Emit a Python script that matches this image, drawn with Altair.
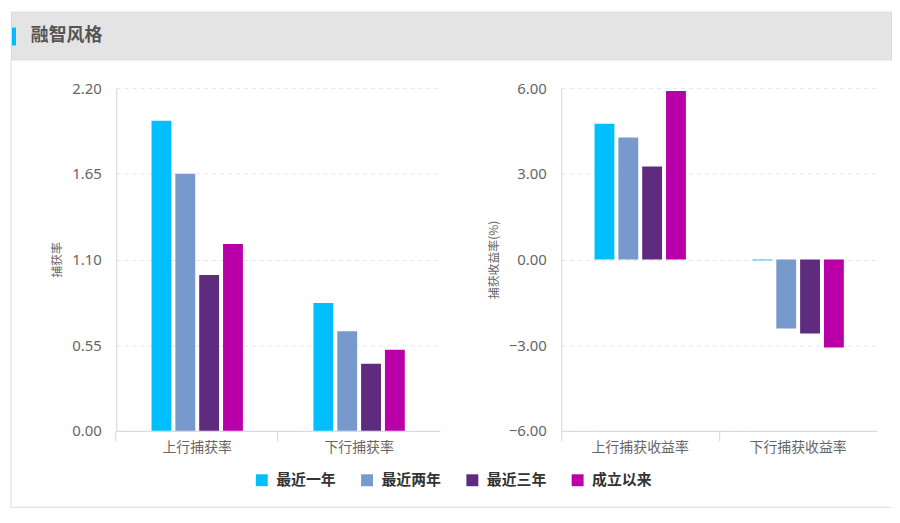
import altair as alt
import pandas as pd

# ---------------- data ----------------
series = ["最近一年", "最近两年", "最近三年", "成立以来"]
colors = ["#00BFFF", "#7799CC", "#5F2B7F", "#B900A8"]

ratio_categories = ["上行捕获率", "下行捕获率"]
ratio_1y = [1.99, 0.82]
ratio_2y = [1.65, 0.64]
ratio_3y = [1.00, 0.43]
ratio_all = [1.20, 0.52]

return_categories = ["上行捕获收益率", "下行捕获收益率"]
return_1y = [4.75, -0.03]
return_2y = [4.27, -2.42]
return_3y = [3.26, -2.59]
return_all = [5.90, -3.08]

ratio_ticks = [0.0, 0.55, 1.10, 1.65, 2.20]
return_ticks = [-6.0, -3.0, 0.0, 3.0, 6.0]

panel_title = "融智风格"
ratio_axis_title = "捕获率"
return_axis_title = "捕获收益率(%)"


def to_frame(categories, values_by_series):
    rows = []
    for s, vals in zip(series, values_by_series):
        for c, v in zip(categories, vals):
            rows.append({"类别": c, "系列": s, "值": v})
    return pd.DataFrame(rows)


ratio_df = to_frame(ratio_categories, [ratio_1y, ratio_2y, ratio_3y, ratio_all])
return_df = to_frame(return_categories, [return_1y, return_2y, return_3y, return_all])

CJK = "Noto Sans CJK SC"
NUM = "Noto Sans"
BORDER = "#dddddd"


def bar_panel(df, categories, ticks, ytitle, width, pad_inner, band_pos, title_pad):
    return alt.Chart(df).mark_bar().encode(
        x=alt.X(
            "类别:N", sort=categories, title=None,
            scale=alt.Scale(paddingInner=pad_inner, paddingOuter=pad_inner / 2),
            axis=alt.Axis(
                labelAngle=0, bandPosition=band_pos, tickExtra=False, grid=False,
                domainColor="#ccd6eb", tickColor="#ccd6eb", tickSize=10,
                labelFont=CJK, labelFontSize=14, labelColor="#666666",
                labelPadding=0,
            ),
        ),
        xOffset=alt.XOffset(
            "系列:N", sort=series,
            scale=alt.Scale(paddingInner=1 / 6, paddingOuter=0),
        ),
        y=alt.Y(
            "值:Q", stack=None,
            scale=alt.Scale(domain=[ticks[0], ticks[-1]], nice=False, zero=False),
            axis=alt.Axis(
                values=ticks, format=".2f",
                ticks=False, tickSize=0, labelPadding=15,
                labelFont=NUM, labelFontSize=15, labelColor="#666666",
                domainColor="#d6d6d6", grid=True, gridColor="#e6e6e6",
                gridDash=[4, 4], title=ytitle, titleFont=CJK, titleFontSize=12,
                titleFontWeight="normal", titleColor="#666666", titlePadding=title_pad,
            ),
        ),
        color=alt.Color(
            "系列:N", sort=series,
            scale=alt.Scale(domain=series, range=colors),
            legend=alt.Legend(
                title=None, orient="none", direction="horizontal", columns=4,
                legendX=245, legendY=464, symbolType="square", symbolSize=144,
                symbolStrokeWidth=0, labelFont=CJK, labelFontSize=15,
                labelFontWeight="bold", labelColor="#333333", labelOffset=7,
                columnPadding=23,
            ),
        ),
    ).properties(width=width, height=345)


left = bar_panel(ratio_df, ratio_categories, ratio_ticks, ratio_axis_title,
                 326, 0.4356, -0.386, 8)
right = bar_panel(return_df, return_categories, return_ticks, return_axis_title,
                  318, 0.4214, -0.364, 8)

header_df = pd.DataFrame({"标题": [panel_title]})
header_text = alt.Chart(header_df).mark_text(
    align="left", baseline="middle", font=CJK, fontSize=18, fontWeight="bold",
    color="#555555",
).encode(text="标题:N", x=alt.value(20), y=alt.value(25))
header_bar = alt.Chart(header_df).mark_rect(color="#00B9FF").encode(
    x=alt.value(1), x2=alt.value(5), y=alt.value(16), y2=alt.value(34)
)
card_left = alt.Chart(header_df).mark_rule(color=BORDER, strokeWidth=1).encode(
    x=alt.value(0), y=alt.value(48), y2=alt.value(499)
)
card_bottom = alt.Chart(header_df).mark_rule(color=BORDER, strokeWidth=1).encode(
    x=alt.value(0), x2=alt.value(886), y=alt.value(499)
)
header = alt.layer(card_left, card_bottom, header_bar, header_text).properties(
    width=886, height=48,
    view=alt.ViewBackground(fill="#e4e4e4", stroke="#d8d8d8"),
)

spacer = alt.Chart(header_df).mark_point(opacity=0, size=1).encode(
    x=alt.value(20), y=alt.value(1)
).properties(width=40, height=2)

charts_row = alt.hconcat(left, right, spacing=47)
row = alt.hconcat(spacer, charts_row, spacing=0)

chart = alt.vconcat(header, row, spacing=29, bounds="flush").properties(
    padding={"left": 2, "top": 1, "right": 0, "bottom": 0},
    background="#ffffff",
).configure(
    padding={"left": 2, "top": 1, "right": 0, "bottom": 0},
).configure_view(stroke=None)

chart.save("out.html", embed_options={"renderer": "svg", "actions": False})
